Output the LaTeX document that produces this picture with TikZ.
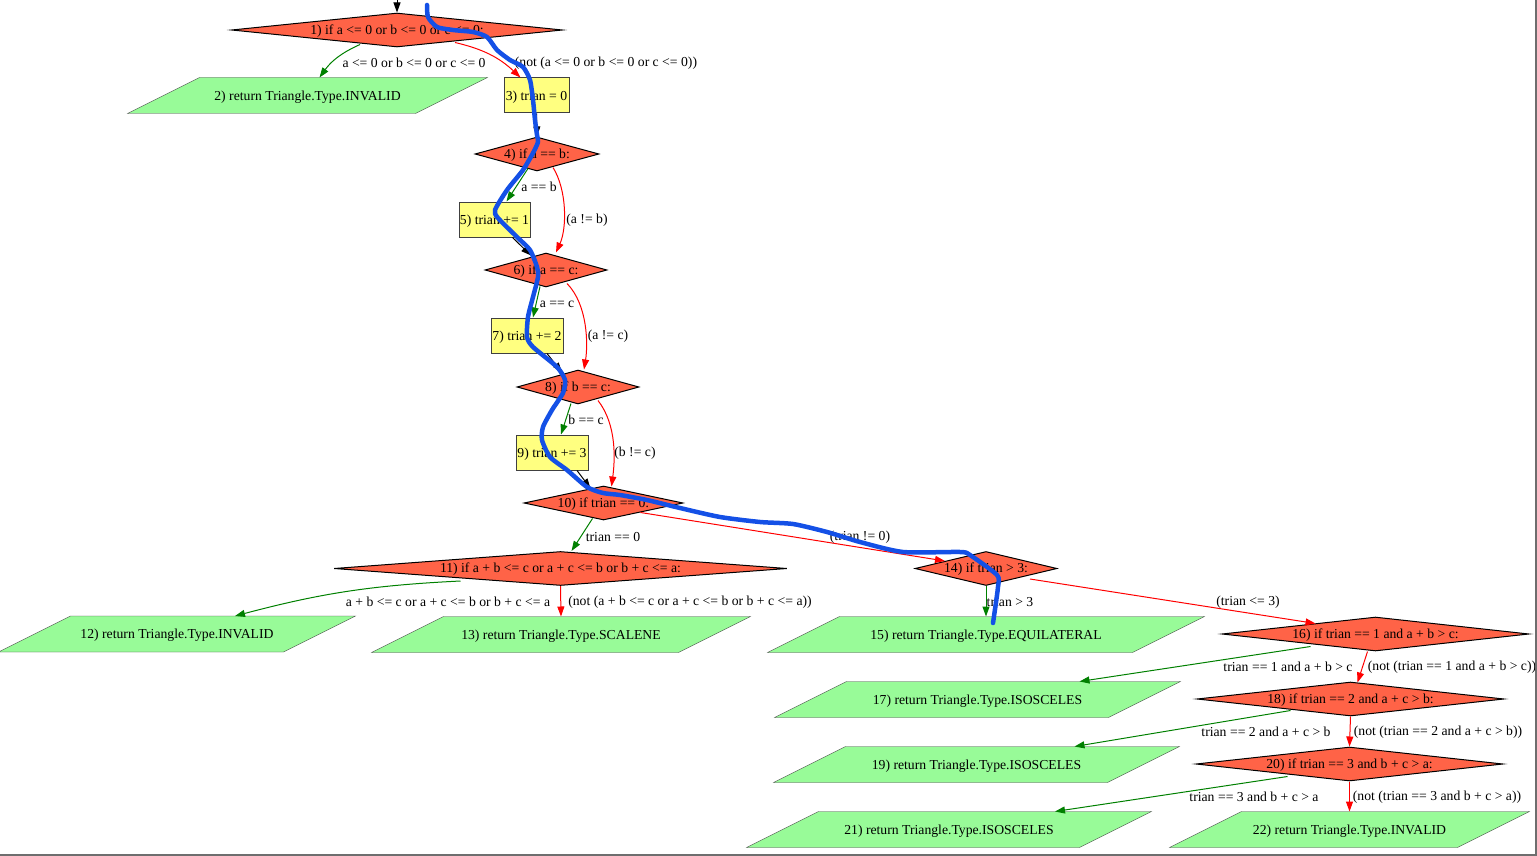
\documentclass[tikz,border=0pt]{standalone}
\usepackage{fontspec}
\setmainfont{Liberation Serif}
\usetikzlibrary{shapes.geometric,arrows.meta,calc,backgrounds}
\definecolor{condred}{HTML}{FF6347}
\definecolor{stmtyellow}{HTML}{FFFF80}
\definecolor{retgreen}{HTML}{98FB98}
\definecolor{yesgreen}{HTML}{008000}
\definecolor{pathblue}{RGB}{20,80,230}
\definecolor{framegray}{RGB}{110,110,110}
\tikzset{
  cond/.style={diamond, draw=black, fill=condred, inner sep=0pt, minimum height=34pt},
  stmt/.style={rectangle, draw=black!75, fill=stmtyellow, inner sep=0.5pt, minimum height=35pt, text depth=0.5pt},
  ret/.style={rectangle, inner sep=0pt, minimum height=35pt, text depth=0.5pt},
  yes/.style={->, draw=yesgreen},
  no/.style={->, draw=red},
  seq/.style={->, draw=black},
  lbl/.style={inner sep=0pt},
}
\begin{document}
\begin{tikzpicture}[x=1pt, y=-1pt, line width=1pt, >={Triangle[length=10pt,width=7pt]},
    font=\fontsize{13.7}{16}\selectfont]
    \useasboundingbox (0,0) rectangle (1537,856);
    % decisions
    \node[cond, minimum width=331pt, label={[yshift=-1pt]center:{1) if a <= 0 or b <= 0 or c <= 0:}}] (d1) at (397,30) {};
    \node[cond, minimum width=124pt, label={[yshift=-1pt]center:{4) if a == b:}}] (d4) at (537,154) {};
    \node[cond, minimum width=122pt, label={[yshift=-1pt]center:{6) if a == c:}}] (d6) at (546,270) {};
    \node[cond, minimum width=122pt, label={[yshift=-1pt]center:{8) if b == c:}}] (d8) at (578,387) {};
    \node[cond, minimum width=159pt, label={[yshift=-1pt]center:{10) if trian == 0:}}] (d10) at (603.5,503) {};
    \node[cond, minimum width=453pt, label={[yshift=-1pt]center:{11) if a + b <= c or a + c <= b or b + c <= a:}}] (d11) at (560.5,568.5) {};
    \node[cond, minimum width=142pt, label={[yshift=-1pt]center:{14) if trian > 3:}}] (d14) at (986,568.5) {};
    \node[cond, minimum width=307pt, label={[yshift=-1pt]center:{16) if trian == 1 and a + b > c:}}] (d16) at (1375.5,634) {};
    \node[cond, minimum width=307pt, label={[yshift=-1pt]center:{18) if trian == 2 and a + c > b:}}] (d18) at (1350.5,699) {};
    \node[cond, minimum width=307pt, label={[yshift=-1pt]center:{20) if trian == 3 and b + c > a:}}] (d20) at (1349.5,764) {};
    % statements
    \node[stmt, minimum width=65pt] (r3) at (536.5,95.5) {3) trian = 0};
    \node[stmt, minimum width=71pt] (r5) at (494.5,219.5) {5) trian += 1};
    \node[stmt, minimum width=72pt] (r7) at (527,335.5) {7) trian += 2};
    \node[stmt, minimum width=72pt] (r9) at (552,452.5) {9) trian += 3};
    % returns
    \node[ret, minimum width=287pt] (p2) at (307.5,95.5) {2) return Triangle.Type.INVALID};
    \node[ret, minimum width=284pt] (p12) at (177,634) {12) return Triangle.Type.INVALID};
    \node[ret, minimum width=306pt] (p13) at (561,634.5) {13) return Triangle.Type.SCALENE};
    \node[ret, minimum width=364pt] (p15) at (986,634.5) {15) return Triangle.Type.EQUILATERAL};
    \node[ret, minimum width=333pt] (p17) at (977.5,699.5) {17) return Triangle.Type.ISOSCELES};
    \node[ret, minimum width=333pt] (p19) at (976.5,764.5) {19) return Triangle.Type.ISOSCELES};
    \node[ret, minimum width=332pt] (p21) at (949,829.5) {21) return Triangle.Type.ISOSCELES};
    \node[ret, minimum width=287pt] (p22) at (1349.5,829.5) {22) return Triangle.Type.INVALID};
    \begin{scope}[on background layer]
    \foreach \n in {p2,p12,p13,p15,p17,p19,p21,p22}
        \draw[draw=black!75, fill=retgreen] ([xshift=36pt]\n.north west) -- ([xshift=36pt]\n.north east)
            -- ([xshift=-36pt]\n.south east) -- ([xshift=-36pt]\n.south west) -- cycle;
    \end{scope}
    % connectors
    \coordinate (entry) at (397,0);
    \draw[seq] (entry) -- (d1.north);
    \draw[yes] ($(d1.south)+(-37,-3)$) to[bend right=15] ($(p2.north)+(12,0)$);
    \draw[no] ($(d1.south)+(58,-5)$) to[bend left=15] ($(r3.north)+(-16,0)$);
    \draw[seq] (r3.south) -- (d4.north);
    \draw[yes] ($(d4.south)+(-9,-3)$) -- ($(r5.north)+(12,0)$);
    \draw[no] ($(d4.south)+(16,-4)$) .. controls (567,190) and (567,228) .. ($(d6.north)+(10,0)$);
    \draw[seq] ($(r5.south)+(18,0)$) -- ($(d6.north)+(-15,3)$);
    \draw[yes] ($(d6.south)+(-6,-1)$) -- ($(r7.north)+(6,0)$);
    \draw[no] ($(d6.south)+(21,-4)$) .. controls (588,305) and (588,345) .. ($(d8.north)+(6,0)$);
    \draw[seq] ($(r7.south)+(20,0)$) -- ($(d8.north)+(-16,3)$);
    \draw[yes] ($(d8.south)+(-7,-1)$) -- ($(r9.north)+(9,0)$);
    \draw[no] ($(d8.south)+(20,-4)$) .. controls (617,425) and (615,460) .. ($(d10.north)+(8,1)$);
    \draw[seq] ($(r9.south)+(25,0)$) -- ($(d10.north)+(-13,3)$);
    \draw[yes] ($(d10.south)+(-11,-2)$) -- ($(d11.north)+(11,0)$);
    \draw[no] ($(d10.south)+(37,-8)$) -- ($(d14.north)+(-41,10)$);
    \draw[yes] ($(d11.south)+(-100,-5)$) to[bend right=6] ($(p12.north)+(58,0)$);
    \draw[no] (d11.south) -- (p13.north);
    \draw[yes] (d14.south) -- (p15.north);
    \draw[no] ($(d14.south)+(44,-7)$) -- ($(d16.north)+(-60,7)$);
    \draw[yes] ($(d16.south)+(-65,-5)$) -- ($(p17.north)+(102,0)$);
    \draw[no] ($(d16.south)+(-8,0)$) -- ($(d18.north)+(7,1)$);
    \draw[yes] ($(d18.south)+(-60,-6)$) -- ($(p19.north)+(98,0)$);
    \draw[no] (d18.south) -- (d20.north);
    \draw[yes] ($(d20.south)+(-62,-5)$) -- ($(p21.north)+(106,0)$);
    \draw[no] (d20.south) -- (p22.north);
    % connector labels
    \node[lbl] (l12) at (414,63) {a <= 0 or b <= 0 or c <= 0};
    \node[lbl] (l13) at (606,63) {(not (a <= 0 or b <= 0 or c <= 0))};
    \node[lbl] (l45) at (539,187) {a == b};
    \node[lbl] (l46) at (587,220) {(a != b)};
    \node[lbl] (l67) at (557,304) {a == c};
    \node[lbl] (l68) at (608,336) {(a != c)};
    \node[lbl] (l89) at (586,420) {b == c};
    \node[lbl] (l810) at (635,453) {(b != c)};
    \node[lbl] (l1011) at (613,537) {trian == 0};
    \node[lbl] (l1014) at (860,537) {(trian != 0)};
    \node[lbl] (l1112) at (448,602) {a + b <= c or a + c <= b or b + c <= a};
    \node[lbl] (l1113) at (690,602) {(not (a + b <= c or a + c <= b or b + c <= a))};
    \node[lbl] (l1415) at (1010,602) {trian > 3};
    \node[lbl] (l1416) at (1248,602) {(trian <= 3)};
    \node[lbl] (l1617) at (1288,667) {trian == 1 and a + b > c};
    \node[lbl] (l1618) at (1452,667) {(not (trian == 1 and a + b > c))};
    \node[lbl] (l1819) at (1266,732) {trian == 2 and a + c > b};
    \node[lbl] (l1820) at (1438,732) {(not (trian == 2 and a + c > b))};
    \node[lbl] (l2021) at (1254,797) {trian == 3 and b + c > a};
    \node[lbl] (l2022) at (1437,797) {(not (trian == 3 and b + c > a))};
    % traced path
    \draw[pathblue, line width=4.5pt, line cap=round, line join=round]
        plot[smooth, tension=0.4] coordinates {(427,5) (428,17) (437,27) (453,30) (473,32) (487,37)
        (497,50) (510,60) (523,67) (530,80) (533,100) (535,120) (537,135) (538,142) (533,153)
        (523,170) (507,190) (495,210) (498,218) (517,237) (530,250) (537,267) (538,277) (533,297)
        (528,317) (527,337) (533,347) (557,367) (565,380) (563,393) (552,410) (543,427) (542,440)
        (550,457) (567,470) (587,487) (603,493) (620,495) (647,500) (680,508) (720,517) (760,522)
        (793,524) (827,532) (860,542) (903,552) (960,552) (970,555) (997,575) (998,587) (993,623)};
    % frame
    \draw[framegray, line width=2pt] (0,854.5) -- (1536,854.5) -- (1536,0);
\end{tikzpicture}
\end{document}
